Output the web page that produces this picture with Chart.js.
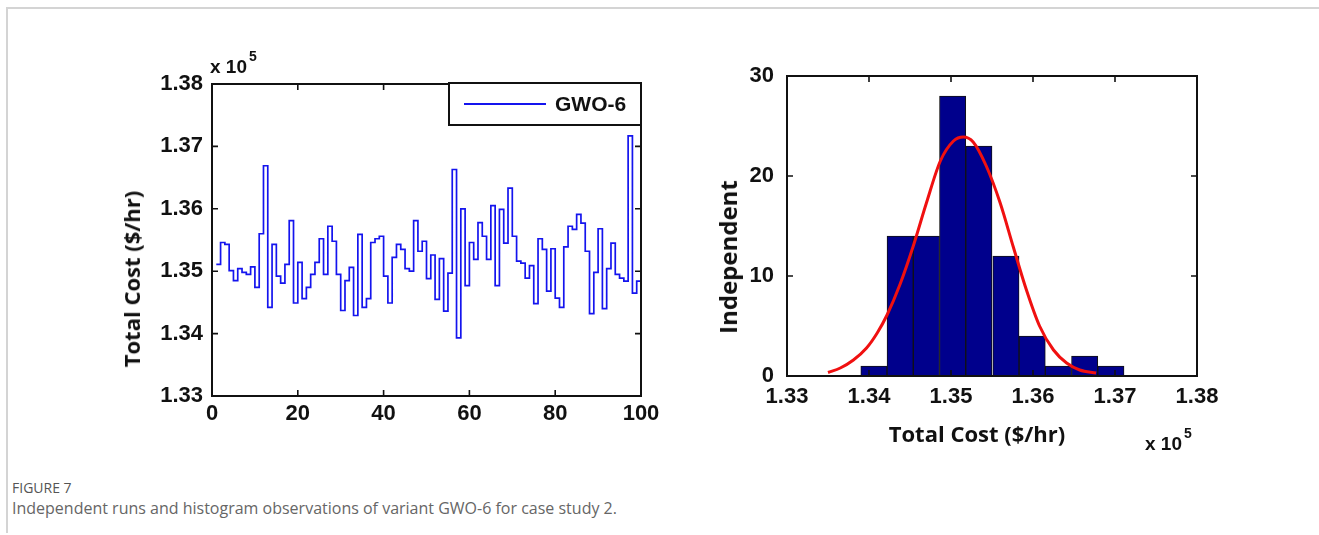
<!DOCTYPE html>
<html>
<head>
<meta charset="utf-8">
<script src="https://cdn.jsdelivr.net/npm/chart.js@4.4.1/dist/chart.umd.min.js"></script>
<style>
  body { margin: 0; background: #fff; width: 1319px; height: 535px; position: relative; overflow: hidden; }
  .frame { position: absolute; left: 6px; top: 7px; right: -4px; bottom: 2px; border-top: 2px solid #d4d4d4; border-left: 2px solid #d4d4d4; }
  canvas { position: absolute; }
  #runsChart { left: 100px; top: 40px; }
  #histChart { left: 690px; top: 40px; }
  .lbl { position: absolute; white-space: nowrap; color: #111; font-family: 'Open Sans', sans-serif; font-weight: 700; font-size: 22px; line-height: 1; }
  .rot { transform: translate(-50%, -50%) rotate(-90deg); }
  .mid { transform: translate(-50%, -50%); }
  .mult { position: absolute; font-family: 'Liberation Sans', Arial, sans-serif; font-weight: 700; font-size: 19px; color: #111; line-height: 1; }
  .mult sup { font-size: 14px; position: relative; top: -5px; margin-left: 2px; }
  .cap1 { position: absolute; left: 12px; top: 478px; font-family: 'Open Sans', sans-serif; font-size: 14px; color: #555; }
  .cap2 { position: absolute; left: 12px; top: 497px; font-family: 'Open Sans', sans-serif; font-size: 16px; color: #666; }
</style>
</head>
<body>
<div class="frame"></div>

<canvas id="runsChart" width="580" height="400"></canvas>
<canvas id="histChart" width="550" height="420"></canvas>

<div class="mult" style="left:210px; top:54px;">x 10<sup>5</sup></div>
<div class="lbl rot" style="left:131px; top:279px;">Total Cost ($/hr)</div>

<div class="lbl rot" style="left:728px; top:257px; font-size:24px;">Independent</div>
<div class="lbl mid" style="left:977px; top:433px;">Total Cost ($/hr)</div>
<div class="mult" style="left:1145px; top:431px;">x 10<sup>5</sup></div>

<div class="cap1">FIGURE 7</div>
<div class="cap2">Independent runs and histogram observations of variant GWO-6 for case study 2.</div>

<script>
// total cost of each independent run (x 10^5 $/hr)
const runCost = [
  1.3511, 1.3546, 1.3543, 1.3501, 1.3485, 1.3504, 1.3498, 1.3495, 1.3507, 1.3474,
  1.3560, 1.3669, 1.3442, 1.3543, 1.3492, 1.3481, 1.3511, 1.3581, 1.3449, 1.3514,
  1.3456, 1.3474, 1.3495, 1.3514, 1.3552, 1.3495, 1.3572, 1.3548, 1.3495, 1.3437,
  1.3485, 1.3506, 1.3429, 1.3559, 1.3442, 1.3456, 1.3546, 1.3552, 1.3556, 1.3492,
  1.3449, 1.3522, 1.3543, 1.3535, 1.3504, 1.3500, 1.3581, 1.3532, 1.3548, 1.3488,
  1.3526, 1.3455, 1.3520, 1.3436, 1.3497, 1.3663, 1.3393, 1.3600, 1.3477, 1.3546,
  1.3519, 1.3578, 1.3556, 1.3519, 1.3605, 1.3477, 1.3599, 1.3545, 1.3633, 1.3556,
  1.3516, 1.3513, 1.3489, 1.3509, 1.3448, 1.3552, 1.3535, 1.3468, 1.3536, 1.3457,
  1.3442, 1.3539, 1.3572, 1.3567, 1.3591, 1.3577, 1.3532, 1.3432, 1.3498, 1.3568,
  1.3440, 1.3504, 1.3545, 1.3495, 1.3489, 1.3484, 1.3717, 1.3465, 1.3484, 1.3484
];

// histogram bins (centres) and counts
const binCenters = [1.3406, 1.3438, 1.3470, 1.3502, 1.3534, 1.3567, 1.3599, 1.3631, 1.3663, 1.3695];
const binCounts = [1, 14, 14, 28, 23, 12, 4, 1, 2, 1];

// fitted normal curve
const fitCost = [1.3350, 1.3365, 1.3381, 1.3397, 1.3410, 1.3422, 1.3438, 1.3454, 1.3470, 1.3487, 1.3503,
                 1.3515, 1.3527, 1.3543, 1.3560, 1.3576, 1.3592, 1.3608, 1.3625, 1.3641, 1.3657, 1.3677];
const fitCount = [0.35, 0.8, 1.6, 2.8, 4.3, 6.1, 9.2, 13.0, 17.3, 21.5, 23.5,
                  23.9, 23.4, 21.0, 17.3, 12.9, 8.6, 5.0, 2.6, 1.3, 0.6, 0.3];

const tickFont = { family: "'Liberation Sans', Arial, sans-serif", size: 22, weight: 'bold' };

// box around the plot with matlab-style inward ticks on every side
const boxTicks = {
  id: 'boxTicks',
  afterDraw(chart) {
    const { ctx, chartArea: a, scales } = chart;
    const len = 6;
    ctx.save();
    ctx.strokeStyle = '#111';
    ctx.lineWidth = 1.6;
    ctx.beginPath();
    scales.x.ticks.forEach(t => {
      const px = scales.x.getPixelForValue(t.value);
      ctx.moveTo(px, a.bottom); ctx.lineTo(px, a.bottom - len);
      ctx.moveTo(px, a.top); ctx.lineTo(px, a.top + len);
    });
    scales.y.ticks.forEach(t => {
      const py = scales.y.getPixelForValue(t.value);
      ctx.moveTo(a.left, py); ctx.lineTo(a.left + len, py);
      ctx.moveTo(a.right, py); ctx.lineTo(a.right - len, py);
    });
    ctx.stroke();
    ctx.lineWidth = 2;
    ctx.strokeRect(a.left, a.top, a.right - a.left, a.bottom - a.top);
    ctx.restore();
  }
};

// boxed legend in the top right corner
const boxLegend = {
  id: 'boxLegend',
  afterDraw(chart) {
    const { ctx, chartArea: a } = chart;
    const ds = chart.data.datasets[0];
    const w = 192, h = 42;
    const x = a.right - w, y = a.top - 1;
    ctx.save();
    ctx.fillStyle = '#fff';
    ctx.fillRect(x, y, w, h);
    ctx.strokeStyle = '#111';
    ctx.lineWidth = 2;
    ctx.strokeRect(x, y, w, h);
    ctx.strokeStyle = ds.borderColor;
    ctx.lineWidth = 2;
    ctx.beginPath();
    ctx.moveTo(x + 15, y + h / 2);
    ctx.lineTo(x + 97, y + h / 2);
    ctx.stroke();
    ctx.fillStyle = '#111';
    ctx.font = "bold 21px 'Liberation Sans', Arial, sans-serif";
    ctx.textBaseline = 'middle';
    ctx.fillText(ds.label, x + 106, y + h / 2 + 1);
    ctx.restore();
  }
};

new Chart(document.getElementById('runsChart'), {
  type: 'line',
  data: {
    datasets: [{
      label: 'GWO-6',
      data: runCost.map((v, i) => ({ x: i + 1, y: v })),
      stepped: true,
      borderColor: '#1414ee',
      borderWidth: 1.7,
      pointRadius: 0,
      fill: false
    }]
  },
  options: {
    responsive: false,
    animation: false,
    layout: { padding: { top: 44, right: 39, left: 0, bottom: 0 } },
    plugins: { legend: { display: false }, tooltip: { enabled: false } },
    scales: {
      x: {
        type: 'linear', min: 0, max: 100,
        grid: { display: false, drawTicks: false },
        border: { display: false },
        ticks: { stepSize: 20, font: tickFont, color: '#111', padding: 5, maxRotation: 0 },
        afterFit(s) { s.height = 44; }
      },
      y: {
        type: 'linear', min: 1.33, max: 1.38,
        grid: { display: false, drawTicks: false },
        border: { display: false },
        ticks: { stepSize: 0.01, font: tickFont, color: '#111', padding: 9, callback: v => v.toFixed(2) },
        afterFit(s) { s.width = 112; }
      }
    }
  },
  plugins: [boxTicks, boxLegend]
});

new Chart(document.getElementById('histChart'), {
  type: 'bar',
  data: {
    datasets: [{
      type: 'line',
      label: 'Normal fit',
      data: fitCost.map((c, i) => ({ x: c, y: fitCount[i] })),
      borderColor: '#f01010',
      borderWidth: 3,
      pointRadius: 0,
      cubicInterpolationMode: 'monotone',
      fill: false
    }, {
      type: 'bar',
      label: 'Runs',
      data: binCenters.map((c, i) => ({ x: c, y: binCounts[i] })),
      backgroundColor: '#00008c',
      borderColor: '#111',
      borderWidth: 1,
      barPercentage: 1,
      categoryPercentage: 1,
      grouped: false
    }]
  },
  options: {
    responsive: false,
    animation: false,
    layout: { padding: { top: 36, right: 43, left: 0, bottom: 0 } },
    plugins: { legend: { display: false }, tooltip: { enabled: false } },
    scales: {
      x: {
        type: 'linear', min: 1.33, max: 1.38, offset: false,
        grid: { display: false, drawTicks: false, offset: false },
        border: { display: false },
        ticks: { stepSize: 0.01, font: tickFont, color: '#111', padding: 8, maxRotation: 0, callback: v => v.toFixed(2) },
        afterFit(s) { s.height = 84; }
      },
      y: {
        type: 'linear', min: 0, max: 30,
        grid: { display: false, drawTicks: false },
        border: { display: false },
        ticks: { stepSize: 10, font: tickFont, color: '#111', padding: 13 },
        afterFit(s) { s.width = 97; }
      }
    }
  },
  plugins: [boxTicks]
});
</script>
</body>
</html>
